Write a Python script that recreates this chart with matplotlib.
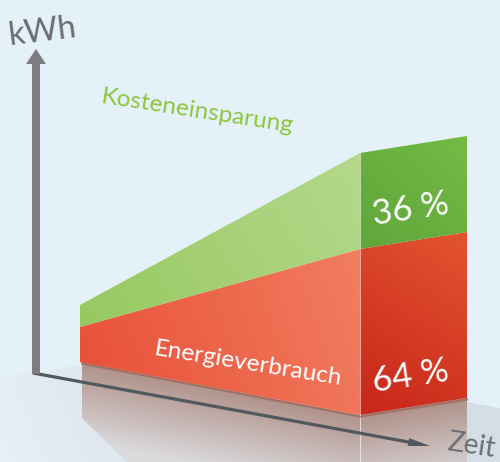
import numpy as np
import matplotlib
matplotlib.use("Agg")
import matplotlib.pyplot as plt
from matplotlib.patches import Polygon
from matplotlib.colors import to_rgba

# ---------------- data ----------------
zeitpunkte = ["Beginn", "Ende"]
energieverbrauch = [35, 166]      # kWh height (arbitrary units) at start / end
kosteneinsparung = [22, 96]       # kWh height (arbitrary units) at start / end
anteil_namen = ["Energieverbrauch", "Kosteneinsparung"]
anteile = [64, 36]                # percent
achsen_labels = ["kWh", "Zeit"]

# ---------------- styling / geometry ----------------
W, H = 500, 462
FONT = "Lato"
BG = "#e4f1f9"

fig = plt.figure(figsize=(W / 100, H / 100), dpi=100)
ax = fig.add_axes([0, 0, 1, 1])
ax.set_axis_off()
fig.patch.set_facecolor(BG)


def gradient_poly(verts, c0, c1, p0, p1, z=1, tfunc=None):
    poly = Polygon(verts, closed=True, facecolor="none", edgecolor="none")
    ax.add_patch(poly)
    xs = [v[0] for v in verts]
    ys = [v[1] for v in verts]
    x0, x1, y0, y1 = min(xs), max(xs), min(ys), max(ys)
    X, Y = np.meshgrid(np.linspace(x0, x1, 200), np.linspace(y0, y1, 200))
    if tfunc is None:
        d = np.array(p1, float) - np.array(p0, float)
        t = ((X - p0[0]) * d[0] + (Y - p0[1]) * d[1]) / (d @ d)
    else:
        t = tfunc(X, Y)
    t = np.clip(t, 0, 1)[..., None]
    a = np.array(to_rgba(c0))
    b = np.array(to_rgba(c1))
    img = a + t * (b - a)
    im = ax.imshow(img, extent=(x0, x1, y0, y1), origin="lower",
                   interpolation="bilinear", aspect="auto", zorder=z)
    im.set_clip_path(poly)
    return im


# background
ax.add_patch(Polygon([(0, 0), (W, 0), (W, H), (0, H)], facecolor=BG,
                     edgecolor="none", zorder=0))

# floor plane
floor = [(0, 378), (176, 350), (W, 408), (W, H), (0, H)]
gradient_poly(floor, "#d3dee6", "#e8eff5", (250, 360), (0, 462), z=1)

# block geometry (side face + front face), heights from data
sx0, sx1 = 80, 360          # side face x extent
fx1 = 467                   # front face right x
base_side = (362, 415)      # baseline y at sx0, sx1
base_front = (415, 398)     # baseline y at sx1, fx1

red_l, red_r = energieverbrauch
grn_l, grn_r = kosteneinsparung

# reflection below block
def edge_y(X):
    return np.where(X <= sx1,
                    base_side[0] + (X - sx0) * (base_side[1] - base_side[0]) / (sx1 - sx0),
                    base_front[0] + (X - sx1) * (base_front[1] - base_front[0]) / (fx1 - sx1))

refl = [(sx0 + 2, base_side[0]), (sx1, base_side[1]), (fx1, base_front[1]),
        (fx1, H), (127, H), (sx0 + 2, 418)]
gradient_poly(refl, "#b0928a", "#dbdadd", None, None, z=2,
              tfunc=lambda X, Y: (Y - edge_y(X)) / 80.0)
ax.plot([sx1, sx1], [base_side[1], H], color="white", lw=0.8, alpha=0.6, zorder=2.5)

# horizontal (time) axis line
ax_x0, ax_y0 = 33, 373
tip_x, tip_y = 430, 446
ax.plot([ax_x0, tip_x - 8], [ax_y0, tip_y - 8 * (tip_y - ax_y0) / (tip_x - ax_x0)],
        color="#53585e", lw=2.3, zorder=3, solid_capstyle="butt")
ang = np.arctan2(tip_y - ax_y0, tip_x - ax_x0)
dx, dy = np.cos(ang), np.sin(ang)
nx, ny = -dy, dx
hl, hw = 22, 4
ax.add_patch(Polygon([(tip_x, tip_y),
                      (tip_x - hl * dx + hw * nx, tip_y - hl * dy + hw * ny),
                      (tip_x - hl * dx - hw * nx, tip_y - hl * dy - hw * ny)],
                     facecolor="#53585e", edgecolor="none", zorder=3))

# vertical (kWh) axis arrow
ax.add_patch(Polygon([(32, 374), (40, 374), (40, 63), (32, 63)],
                     facecolor="#7c7c81", edgecolor="none", zorder=3))
ax.add_patch(Polygon([(26, 64), (46, 64), (36, 49)],
                     facecolor="#7c7c81", edgecolor="none", zorder=3))

# side face polygons
red_side = [(sx0, base_side[0]), (sx1, base_side[1]),
            (sx1, base_side[1] - red_r), (sx0, base_side[0] - red_l)]
grn_side = [(sx0, base_side[0] - red_l), (sx1, base_side[1] - red_r),
            (sx1, base_side[1] - red_r - grn_r), (sx0, base_side[0] - red_l - grn_l)]
gradient_poly(red_side, "#e8513a", "#f27d5f", (sx0, 360), (sx1, 260), z=4)
gradient_poly(grn_side, "#96c85f", "#b5d88b", (sx0, 330), (sx1, 160), z=4)

# front face polygons
red_front = [(sx1, base_front[0]), (fx1, base_front[1]),
             (fx1, base_front[1] - red_r), (sx1, base_front[0] - red_r)]
grn_front = [(sx1, base_front[0] - red_r), (fx1, base_front[1] - red_r),
             (fx1, base_front[1] - red_r - grn_r), (sx1, base_front[0] - red_r - grn_r)]
gradient_poly(red_front, "#c8261a", "#e2532f", (sx1, 410), (fx1, 240), z=4)
gradient_poly(grn_front, "#60a63a", "#74ba46", (sx1, 245), (fx1, 140), z=4)

# dark band under block bottom edge
ax.plot([sx0 + 2, sx1, fx1], [base_side[0] + 1.5, base_side[1] + 1.5, base_front[1] + 1.5],
        color="#9b6a5d", lw=1.6, zorder=3.5, alpha=0.8)
# light divider edge
ax.plot([sx1, sx1], [base_side[1], base_side[1] - red_r - grn_r],
        color="white", lw=0.8, alpha=0.55, zorder=5)

# ---------------- texts ----------------
ax.text(10, 45, achsen_labels[0], fontsize=23.5, color="#6b6c70", family=FONT,
        rotation=7, rotation_mode="anchor", ha="left", va="baseline", zorder=6)
ax.text(446, 450, achsen_labels[1], fontsize=20, color="#6b6f74", family=FONT,
        rotation=-8.6, rotation_mode="anchor", ha="left", va="baseline", zorder=6)

ax.text(100, 103, anteil_namen[1], fontsize=17.6, color="#8cc63e", family=FONT,
        rotation=-8.8, rotation_mode="anchor", ha="left", va="baseline", zorder=6)
ax.text(153, 355, anteil_namen[0], fontsize=17.6, color="white", family=FONT,
        rotation=-9.2, rotation_mode="anchor", ha="left", va="baseline", zorder=6)

ax.text(374, 225, f"{anteile[1]} %", fontsize=25, color="white", family=FONT,
        rotation=8.5, rotation_mode="anchor", ha="left", va="baseline", zorder=6)
ax.text(374, 392, f"{anteile[0]} %", fontsize=25, color="white", family=FONT,
        rotation=8.5, rotation_mode="anchor", ha="left", va="baseline", zorder=6)

ax.set_xlim(0, W)
ax.set_ylim(H, 0)
fig.savefig("out.png", dpi=100, facecolor=BG)
